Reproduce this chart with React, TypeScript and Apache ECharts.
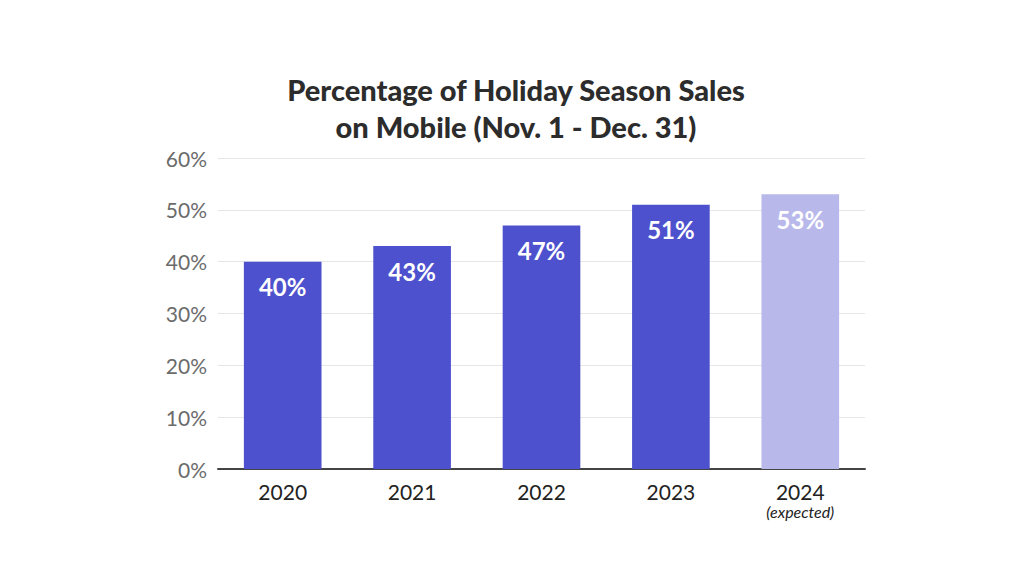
import React, { useEffect, useRef } from "react";
import * as echarts from "echarts";

const categories = ["2020", "2021", "2022", "2023", "2024"];
const values = [40, 43, 47, 51, 53];
const barColors = ["#4d51cd", "#4d51cd", "#4d51cd", "#4d51cd", "#b8b8ea"];
const yTicks = [0, 10, 20, 30, 40, 50, 60];
const titleText = "Percentage of Holiday Season Sales\non Mobile (Nov. 1 - Dec. 31)";

export default function App() {
  const ref = useRef<HTMLDivElement>(null);
  useEffect(() => {
    const chart = echarts.init(ref.current!, null, { renderer: "svg" });
    chart.setOption({
      animation: false,
      backgroundColor: "#ffffff",
      title: {
        text: titleText,
        left: 511,
        textAlign: "center",
        top: 66,
        textStyle: {
          fontFamily: "Lato",
          fontWeight: 900,
          fontSize: 29,
          lineHeight: 37,
          color: "#2c2c2c",
        },
      },
      grid: { left: 218, right: 159, top: 158, bottom: 107 },
      xAxis: {
        type: "category",
        data: categories,
        axisTick: { show: false },
        axisLine: { lineStyle: { color: "#444444", width: 2 } },
        axisLabel: {
          interval: 0,
          margin: 11,
          formatter: (v: string) =>
            v === "2024" ? "{y|2024}\n{e|(expected)}" : "{y|" + v + "}",
          rich: {
            y: {
              fontFamily: "Lato",
              fontSize: 21,
              color: "#222222",
              lineHeight: 22,
            },
            e: {
              fontFamily: "Lato",
              fontStyle: "italic",
              fontSize: 16,
              color: "#222222",
              lineHeight: 19,
            },
          },
        },
      },
      yAxis: {
        type: "value",
        min: yTicks[0],
        max: yTicks[yTicks.length - 1],
        interval: 10,
        axisLine: { show: false },
        axisTick: { show: false },
        splitLine: { lineStyle: { color: "#e6e6e6", width: 1 } },
        axisLabel: {
          margin: 11,
          fontFamily: "Lato",
          fontSize: 21,
          color: "#6b6b6b",
          formatter: (v: number) => v + "%",
        },
      },
      series: [
        {
          type: "bar",
          barWidth: "60%",
          data: values.map((v, i) => ({ value: v, itemStyle: { color: barColors[i] } })),
          label: {
            show: true,
            position: "insideTop",
            distance: 13,
            fontFamily: "Lato",
            fontWeight: "bold",
            fontSize: 24,
            color: "#ffffff",
            formatter: (p: any) => p.value + "%",
          },
        },
      ],
    });
    return () => chart.dispose();
  }, []);
  return (
    <div
      ref={ref}
      style={{ position: "fixed", left: 0, top: 0, width: 1024, height: 576 }}
    />
  );
}
